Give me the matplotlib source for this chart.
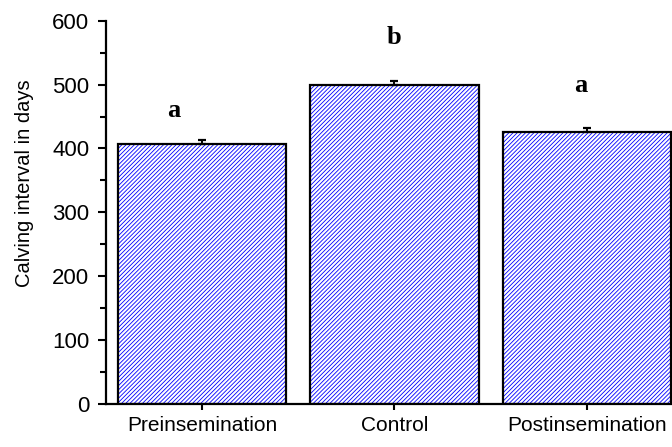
import numpy as np
import matplotlib.pyplot as plt

# Calving interval per group (days), with SEM and significance letters
groups = ['Preinsemination', 'Control', 'Postinsemination']
means = [407, 500, 425]
sem = [6, 5, 7]
letters = ['a', 'b', 'a']
letter_x = [-0.15, 1.0, 1.97]
letter_y = [449, 563, 488]

plt.rcParams['font.family'] = ['Liberation Sans', 'DejaVu Sans']
plt.rcParams['hatch.linewidth'] = 0.6

fig = plt.figure(figsize=(6.72, 4.47), dpi=100)
ax = fig.add_axes([0.1577, 0.0962, 0.8423, 0.8575])

x = np.arange(len(groups))
w = 0.875
# hatched fill (hatch takes the edge colour), then a black outline on top
ax.bar(x, means, width=w, color='white', edgecolor='#0000ff', hatch='////////',
       linewidth=0, zorder=2)
ax.bar(x, means, width=w, fill=False, edgecolor='black', linewidth=1.6, zorder=3)
ax.errorbar(x, means, yerr=[np.zeros(len(sem)), sem], fmt='none', ecolor='black',
            elinewidth=1.4, capsize=3, capthick=1.6, zorder=4)

for lx, ly, t in zip(letter_x, letter_y, letters):
    ax.text(lx, ly, t, ha='center', va='baseline', fontsize=19, fontweight='bold',
            family=['Liberation Serif', 'DejaVu Serif'])

ax.set_xlim(-0.5, 2.443)
ax.set_ylim(0, 600)
ax.set_yticks(np.arange(0, 601, 100))
ax.set_yticks(np.arange(50, 600, 100), minor=True)
ax.set_xticks(x)
ax.set_xticklabels(groups, fontsize=15)
ax.tick_params(axis='y', which='major', length=6, width=1.5, labelsize=16, pad=6)
ax.tick_params(axis='y', which='minor', length=4.5, width=1.5)
ax.tick_params(axis='x', length=4, width=1.5, pad=5)
ax.set_ylabel('Calving interval in days', fontsize=14.5)
ax.yaxis.set_label_coords(-0.127, 0.575)

ax.spines['top'].set_visible(False)
ax.spines['right'].set_visible(False)
ax.spines['left'].set_linewidth(1.6)
ax.spines['bottom'].set_linewidth(1.6)

plt.savefig('out.png', dpi=100)
